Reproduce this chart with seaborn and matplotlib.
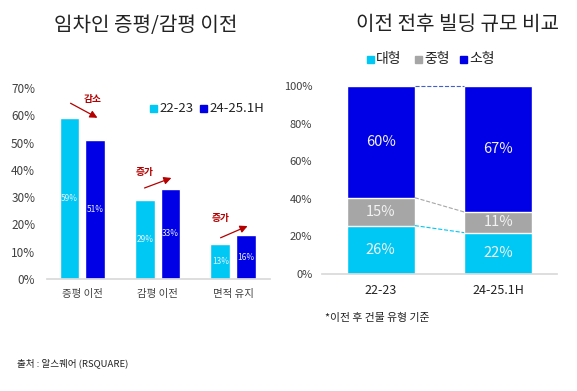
import numpy as np
import pandas as pd
import matplotlib
matplotlib.use("Agg")
import matplotlib.pyplot as plt
from matplotlib.patches import Rectangle
import seaborn as sns

# --- data ---
move_types = ["증평 이전", "감평 이전", "면적 유지"]
periods = ["22-23", "24-25.1H"]
share_2223 = [59, 29, 13]
share_2425 = [51, 33, 16]
trend_labels = ["감소", "증가", "증가"]

size_periods = ["22-23", "24-25.1H"]
size_names = ["대형", "중형", "소형"]
large = [26, 22]
medium = [15, 11]
small = [60, 67]

LIGHT = "#00C8F4"
DARK = "#0000E6"
GRAY = "#A6A6A6"
RED = "#B40000"
TXT = "#404040"

sns.set_theme(style="white")
plt.rcParams["font.family"] = ["Noto Sans CJK KR", "DejaVu Sans"]
plt.rcParams["axes.unicode_minus"] = False

W, H = 577, 391
fig = plt.figure(figsize=(5.77, 3.91), dpi=100)


def legend_square(px, py, size, color):
    # px, py = top-left corner in picture pixels
    fig.patches.append(Rectangle((px / W, 1 - (py + size) / H), size / W, size / H,
                                 transform=fig.transFigure, color=color))


# --- left chart: grouped bars ---
ax1 = fig.add_axes([47 / W, 112 / H, 223 / W, 191 / H])
df1 = pd.DataFrame({
    "type": move_types * 2,
    "period": [periods[0]] * 3 + [periods[1]] * 3,
    "share": [v / 100 for v in share_2223 + share_2425],
})
sns.barplot(data=df1, x="type", y="share", hue="period", order=move_types,
            hue_order=periods, palette=[LIGHT, DARK], width=0.68, gap=0.235,
            saturation=1, ax=ax1, legend=False)
for cont in ax1.containers:
    labels = [f"{b.get_height() * 100:.0f}%" for b in cont]
    ax1.bar_label(cont, labels=labels, label_type="center", color="#E8F0FF",
                  fontsize=6)
ax1.set_xlim(-0.47, 2.49)
ax1.set_ylim(0, 0.7)
ticks1 = np.arange(0, 0.71, 0.1)
ax1.set_yticks(ticks1)
ax1.set_yticklabels([f"{int(round(t * 100))}%" for t in ticks1])
ax1.set_xlabel("")
ax1.set_ylabel("")
ax1.tick_params(axis="y", length=0, labelsize=8.5, colors=TXT, pad=8.5)
ax1.tick_params(axis="x", length=0, labelsize=7.5, colors=TXT, pad=7)
for s in ["top", "right", "left"]:
    ax1.spines[s].set_visible(False)
ax1.spines["bottom"].set_color("#D9D9D9")

# trend arrows
arrows = [((-0.19, 0.649), (0.232, 0.586), (0.14, 0.66)),
          ((0.79, 0.33), (1.216, 0.374), (0.82, 0.392)),
          ((1.80, 0.147), (2.226, 0.198), (1.83, 0.224))]
for (start, end, tpos), lab in zip(arrows, trend_labels):
    ax1.annotate("", xy=end, xytext=start,
                 arrowprops=dict(arrowstyle="-|>", color=RED, lw=0.9,
                                 mutation_scale=11))
    ax1.text(tpos[0], tpos[1], lab, color=RED, fontsize=7, fontweight="bold",
             ha="center", va="center")

# left legend
for px, col, lab in [(150, LIGHT, periods[0]), (200, DARK, periods[1])]:
    legend_square(px, 104.5, 7, col)
    fig.text((px + 9) / W, 1 - 108 / H, lab, color="#222222",
             fontsize=9.5, ha="left", va="center")

# --- right chart: 100% stacked bars ---
ax2 = fig.add_axes([322 / W, 117 / H, 235 / W, 188 / H])
totals = np.array(large) + np.array(medium) + np.array(small)
df2 = pd.DataFrame({
    "period": size_periods,
    "large": np.array(large) / totals,
    "mid_top": (np.array(large) + np.array(medium)) / totals,
    "top": np.ones(len(size_periods)),
})
bw = 0.58
for col, color in [("top", DARK), ("mid_top", GRAY), ("large", LIGHT)]:
    sns.barplot(data=df2, x="period", y=col, color=color, width=bw,
                saturation=1, ax=ax2)
bottoms = [np.zeros(2), df2["large"].values, df2["mid_top"].values]
tops = [df2["large"].values, df2["mid_top"].values, df2["top"].values]
vals = [large, medium, small]
for b, t, v in zip(bottoms, tops, vals):
    for i in range(2):
        ax2.text(i, (b[i] + t[i]) / 2, f"{v[i]}%", color="#F2F2F2",
                 fontsize=10.5, ha="center", va="center")
# connector lines
for series, color in [(df2["large"].values, LIGHT), (df2["mid_top"].values, GRAY),
                      (df2["top"].values, "#4060D0")]:
    ax2.plot([0 + bw / 2, 1 - bw / 2], [series[0], series[1]], ls="--",
             color=color, lw=0.8, clip_on=False)
ax2.set_xlim(-0.5, 1.5)
ax2.set_ylim(0, 1)
ticks2 = np.arange(0, 1.01, 0.2)
ax2.set_yticks(ticks2)
ax2.set_yticklabels([f"{int(round(t * 100))}%" for t in ticks2])
ax2.set_xlabel("")
ax2.set_ylabel("")
ax2.tick_params(axis="y", length=0, labelsize=8, colors=TXT, pad=7)
ax2.tick_params(axis="x", length=0, labelsize=9, colors="#222222", pad=7)
for s in ["top", "right", "left"]:
    ax2.spines[s].set_visible(False)
ax2.spines["bottom"].set_color("#D9D9D9")

# right legend
for px, col, lab in zip([367, 415, 460], [LIGHT, GRAY, DARK], size_names):
    legend_square(px, 56, 6.5, col)
    fig.text((px + 9) / W, 1 - 59 / H, lab, color="#222222",
             fontsize=10, ha="left", va="center")

# titles and notes
fig.text(146 / W, 1 - 25 / H, "임차인 증평/감평 이전", fontsize=14.5,
         color="#222222", ha="center", va="center")
fig.text(457 / W, 1 - 25 / H, "이전 전후 빌딩 규모 비교", fontsize=14.5,
         color="#222222", ha="center", va="center")
fig.text(325 / W, 1 - 318 / H, "*이전 후 건물 유형 기준", fontsize=7.8,
         color="#222222", ha="left", va="center")
fig.text(17 / W, 1 - 363 / H, "출처 : 알스퀘어 (RSQUARE)", fontsize=6.9,
         color="#222222", ha="left", va="center")

fig.savefig("out.png", dpi=100)
